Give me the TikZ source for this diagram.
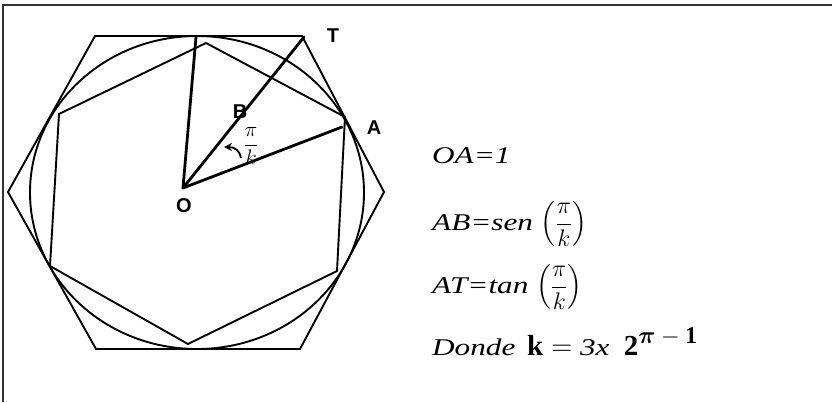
\RequirePackage{fix-cm}
\documentclass[tikz,border=0pt]{standalone}
\usepackage{fontspec}
\usepackage{amsmath}
\usepackage{bm}
\usetikzlibrary{arrows.meta}
\setmainfont{Liberation Serif}
\newfontfamily\eqfont[FakeStretch=1.3]{Liberation Serif}
\newfontfamily\labfont{Liberation Sans}
\begin{document}
\begin{tikzpicture}[x=1pt,y=-1pt,
  poly/.style={line width=1.9pt,line join=miter},
  radial/.style={line width=2.8pt,line cap=round},
  ptlabel/.style={font=\labfont\bfseries\fontsize{20}{22}\selectfont,inner sep=0pt},
  eq/.style={anchor=base west,inner sep=0pt,font=\eqfont\itshape\fontsize{24}{28}\selectfont},
  frame/.style={line width=1.3pt,draw=black!80}]
\useasboundingbox (0,0) rectangle (832,402);
% frame
\coordinate (F1) at (3,402);
\coordinate (F2) at (3,5);
\coordinate (F3) at (832,5);
\draw[frame] (F1) -- (F2) -- (F3);
% circumscribed hexagon
\coordinate (H1) at (8,192);
\coordinate (H2) at (95,36);
\coordinate (H3) at (302,36);
\coordinate (H4) at (384,192);
\coordinate (H5) at (300,349);
\coordinate (H6) at (96,349);
\draw[poly] (H1) -- (H2) -- (H3) -- (H4) -- (H5) -- (H6) -- cycle;
% circle
\coordinate (C) at (197,192.5);
\draw[line width=1.9pt] (C) ellipse [x radius=167, y radius=156.5];
% inscribed polygon
\coordinate (P1) at (206,43);
\coordinate (P2) at (345,117);
\coordinate (P3) at (337,271);
\coordinate (P4) at (188,344);
\coordinate (P5) at (50,266);
\coordinate (P6) at (59,114);
\draw[poly] (P1) -- (P2) -- (P3) -- (P4) -- (P5) -- (P6) -- cycle;
% radial lines
\coordinate (O) at (183,188);
\coordinate (Top) at (196,37);
\coordinate (T) at (304,37);
\coordinate (A) at (342,127);
\draw[radial] (O) -- (Top);
\draw[radial] (O) -- (T);
\draw[radial] (O) -- (A);
% labels
\node[ptlabel] (lT) at (333,36) {T};
\node[ptlabel] (lB) at (240,112) {B};
\node[ptlabel] (lA) at (374,128) {A};
\node[ptlabel] (lO) at (184,206) {O};
% angle arrow
\coordinate (ar1) at (241,158);
\coordinate (ar2) at (224,147);
\draw[line width=1.8pt,-{Stealth[length=8pt,width=8pt]}] (ar1) .. controls (240,151) and (235,147) .. (ar2);
\node[inner sep=0pt,font=\fontsize{21}{23}\selectfont] (lang) at (251,146) {$\dfrac{\pi}{k}$};
% equations
\node[eq] (e1) at (432,163) {OA=1};
\node[eq] (e2) at (432,230) {AB=sen $\left(\dfrac{\pi}{k}\right)$};
\node[eq] (e3) at (432,293) {AT=tan $\left(\dfrac{\pi}{k}\right)$};
\node[eq] (e4) at (432,355) {Donde\, {\fontsize{29}{32}\selectfont$\mathbf{k} = $} 3x\; {\fontsize{29}{32}\selectfont$\mathbf{2}$}\raisebox{12pt}{\fontsize{24}{27}\selectfont$\bm{\pi} - \mathbf{1}$}};
\end{tikzpicture}
\end{document}
